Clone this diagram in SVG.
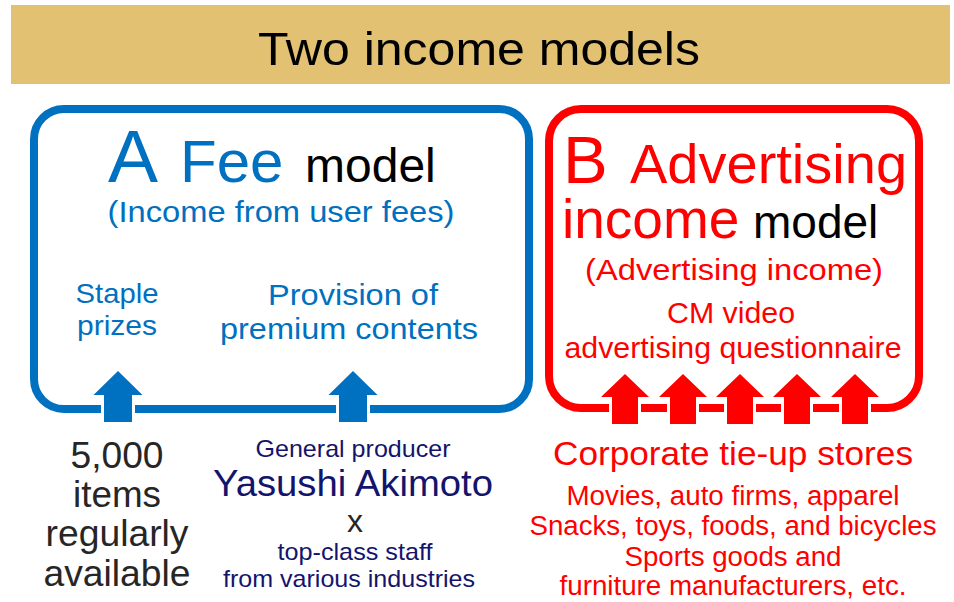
<svg xmlns="http://www.w3.org/2000/svg" width="954" height="602" viewBox="0 0 954 602">
  <style>
    text { font-family: "Liberation Sans", Arial, sans-serif; }
    .c { text-anchor: middle; }
    .blue { fill: #0070C0; }
    .red { fill: #FF0000; }
    .navy { fill: #14146C; }
    .dark { fill: #262626; }
    .black { fill: #000000; }
    .frame { fill: none; stroke-width: 8; }
    .arrowB { fill: #0070C0; stroke: #FFFFFF; stroke-width: 6; paint-order: stroke; stroke-linejoin: miter; }
    .arrowR { fill: #FF0000; stroke: #FFFFFF; stroke-width: 6; paint-order: stroke; stroke-linejoin: miter; }
  </style>
  <defs>
    <!-- upward block arrow, centred on x=0, head tip at y=0 -->
    <path id="upB" d="M0,0 L24.5,24 L14,24 L14,51 L-14,51 L-14,24 L-24.5,24 Z"/>
    <path id="upR" d="M0,0 L24,23 L13,23 L13,50 L-13,50 L-13,23 L-24,23 Z"/>
  </defs>
  <rect width="954" height="602" fill="#FFFFFF"/>

  <!-- title bar -->
  <g id="title">
    <rect x="11" y="5" width="939" height="79" fill="#E2C172"/>
    <text x="479" y="65" class="c black" font-size="47" textLength="442" lengthAdjust="spacingAndGlyphs">Two income models</text>
  </g>

  <!-- model A: fee model -->
  <g id="modelA">
    <rect class="frame" x="34" y="109" width="495" height="300" rx="30" ry="30" stroke="#0070C0"/>
    <text y="182"><tspan x="108" class="blue" font-size="75">A</tspan><tspan x="180" class="blue" font-size="60">Fee</tspan><tspan x="305" class="black" font-size="48">model</tspan></text>
    <text x="281" y="222" class="c blue" font-size="29" textLength="347" lengthAdjust="spacingAndGlyphs">(Income from user fees)</text>
    <text x="117" y="303" class="c blue" font-size="28" textLength="83" lengthAdjust="spacingAndGlyphs">Staple</text>
    <text x="117" y="335" class="c blue" font-size="28" textLength="80" lengthAdjust="spacingAndGlyphs">prizes</text>
    <text x="353" y="305" class="c blue" font-size="30" textLength="170" lengthAdjust="spacingAndGlyphs">Provision of</text>
    <text x="349" y="339" class="c blue" font-size="30" textLength="258" lengthAdjust="spacingAndGlyphs">premium contents</text>
  </g>

  <!-- model B: advertising income model -->
  <g id="modelB">
    <rect class="frame" x="549" y="109" width="370" height="299" rx="32" ry="32" stroke="#FF0000"/>
    <text y="183"><tspan x="563" class="red" font-size="67">B</tspan><tspan x="630" class="red" font-size="56">Advertising</tspan></text>
    <text y="238"><tspan x="562" class="red" font-size="55">income</tspan><tspan x="753" class="black" font-size="46">model</tspan></text>
    <text x="734" y="280" class="c red" font-size="30" textLength="298" lengthAdjust="spacingAndGlyphs">(Advertising income)</text>
    <text x="731" y="323" class="c red" font-size="29" textLength="128" lengthAdjust="spacingAndGlyphs">CM video</text>
    <text x="733" y="358" class="c red" font-size="29" textLength="337" lengthAdjust="spacingAndGlyphs">advertising questionnaire</text>
  </g>

  <!-- sources feeding model A -->
  <g id="prizeStock">
    <text x="117" y="468" class="c dark" font-size="36" textLength="93" lengthAdjust="spacingAndGlyphs">5,000</text>
    <text x="117" y="507" class="c dark" font-size="36" textLength="88" lengthAdjust="spacingAndGlyphs">items</text>
    <text x="117" y="546" class="c dark" font-size="36" textLength="143" lengthAdjust="spacingAndGlyphs">regularly</text>
    <text x="117" y="586" class="c dark" font-size="36" textLength="147" lengthAdjust="spacingAndGlyphs">available</text>
  </g>
  <g id="producer">
    <text x="353" y="457" class="c navy" font-size="24" textLength="195" lengthAdjust="spacingAndGlyphs">General producer</text>
    <text x="353" y="496" class="c navy" font-size="36" textLength="280" lengthAdjust="spacingAndGlyphs">Yasushi Akimoto</text>
    <text x="355" y="532" class="c dark" font-size="32">x</text>
    <text x="355" y="560" class="c navy" font-size="24" textLength="155" lengthAdjust="spacingAndGlyphs">top-class staff</text>
    <text x="349" y="587" class="c navy" font-size="24" textLength="252" lengthAdjust="spacingAndGlyphs">from various industries</text>
  </g>

  <!-- sources feeding model B -->
  <g id="tieUpStores">
    <text x="733" y="465" class="c red" font-size="34" textLength="360" lengthAdjust="spacingAndGlyphs">Corporate tie-up stores</text>
    <text x="733" y="505" class="c red" font-size="27" textLength="333" lengthAdjust="spacingAndGlyphs">Movies, auto firms, apparel</text>
    <text x="733" y="535" class="c red" font-size="27" textLength="407" lengthAdjust="spacingAndGlyphs">Snacks, toys, foods, and bicycles</text>
    <text x="733" y="566" class="c red" font-size="27" textLength="217" lengthAdjust="spacingAndGlyphs">Sports goods and</text>
    <text x="733" y="595" class="c red" font-size="27" textLength="347" lengthAdjust="spacingAndGlyphs">furniture manufacturers, etc.</text>
  </g>

  <!-- connectors: upward arrows crossing the frame edges -->
  <g id="connectors">
    <use href="#upB" class="arrowB" transform="translate(118,371)"/>
    <use href="#upB" class="arrowB" transform="translate(353,371)"/>
    <use href="#upR" class="arrowR" transform="translate(625,374)"/>
    <use href="#upR" class="arrowR" transform="translate(683,374)"/>
    <use href="#upR" class="arrowR" transform="translate(740,374)"/>
    <use href="#upR" class="arrowR" transform="translate(797,374)"/>
    <use href="#upR" class="arrowR" transform="translate(855,374)"/>
  </g>
</svg>
